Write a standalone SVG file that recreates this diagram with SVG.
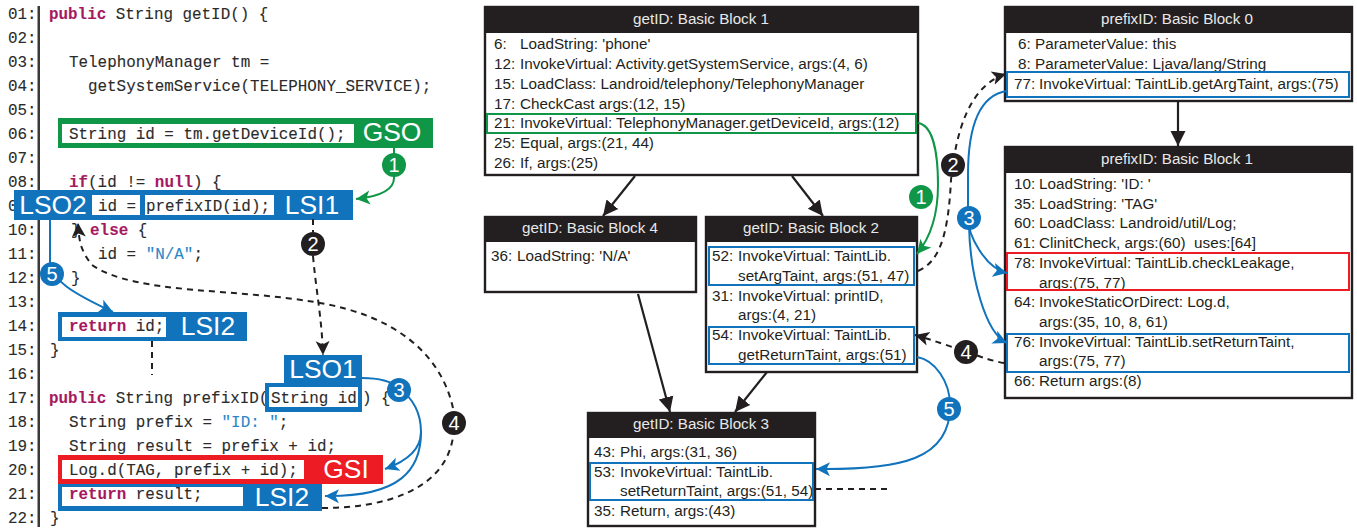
<svg xmlns="http://www.w3.org/2000/svg" width="1357" height="529" viewBox="0 0 1357 529">
<style>
text{font-family:"Liberation Sans",Arial,sans-serif;fill:#231f20}
.c text,text.c{font-family:"Liberation Mono","DejaVu Sans Mono",monospace;font-size:15.9px;fill:#2b2b2b;stroke:#2b2b2b;stroke-width:.1}
.k{fill:#a6195f;stroke:#a6195f;font-weight:bold}
.s{fill:#2a86c8;stroke:#2a86c8}
.tag{font-size:26.400px;fill:#fff;text-anchor:middle}
.t{font-size:15.25px}
.h{font-size:15.2px;fill:#e8e8e8;text-anchor:middle}
.box{fill:#fff;stroke:#231f20;stroke-width:2.4}
.hd{fill:#231f20}
.hl{fill:none;stroke-width:2}
.g{stroke:#0f9647}.b{stroke:#1173bb}.r{stroke:#ed1c24}
.fg{fill:#0f9647}.fb{fill:#1173bb}.fr{fill:#ed1c24}
.w{fill:#fff}
.e{fill:none;stroke-width:2}
.d{fill:none;stroke:#231f20;stroke-width:2;stroke-dasharray:6 5}
.a{fill:none;stroke:#231f20;stroke-width:2.2}
.n{fill:#fff;text-anchor:middle;font-size:20px}
</style>
<defs>
<marker id="mk" markerUnits="userSpaceOnUse" markerWidth="18" markerHeight="18" refX="15" refY="9" orient="auto"><path d="M0 1.500L15 9L0 16.500Z" fill="#231f20"/></marker>
<marker id="md" markerUnits="userSpaceOnUse" markerWidth="16" markerHeight="16" refX="14" refY="8" orient="auto"><path d="M0 1L14 8L0 15L3.500 8Z" fill="#231f20"/></marker>
<marker id="mb" markerUnits="userSpaceOnUse" markerWidth="16" markerHeight="16" refX="14" refY="8" orient="auto"><path d="M0 1L14 8L0 15L3.500 8Z" fill="#1173bb"/></marker>
<marker id="mg" markerUnits="userSpaceOnUse" markerWidth="16" markerHeight="16" refX="14" refY="8" orient="auto"><path d="M0 1L14 8L0 15L3.500 8Z" fill="#0f9647"/></marker>
</defs>
<g id="line-numbers" class="c">
<rect x="37.500" y="6" width="2.500" height="521" fill="#3a3a3a"/>
<text x="8" y="19">01:</text><text x="8" y="43">02:</text><text x="8" y="67">03:</text><text x="8" y="91">04:</text><text x="8" y="115">05:</text><text x="8" y="139">06:</text><text x="8" y="163">07:</text><text x="8" y="187">08:</text><text x="8" y="211">0</text><text x="8" y="235">10:</text><text x="8" y="259">11:</text><text x="8" y="283">12:</text><text x="8" y="307">13:</text><text x="8" y="331">14:</text><text x="8" y="355">15:</text><text x="8" y="379">16:</text><text x="8" y="403">17:</text><text x="8" y="427">18:</text><text x="8" y="451">19:</text><text x="8" y="475">20:</text><text x="8" y="499">21:</text><text x="8" y="523">22:</text>
</g>
<g id="code" class="c">
<text x="49" y="19"><tspan class="k">public</tspan> String getID() {</text>
<text x="69" y="67">TelephonyManager tm =</text>
<text x="88" y="91">getSystemService(TELEPHONY_SERVICE);</text>
<text x="69" y="187"><tspan class="k">if</tspan>(id != <tspan class="k">null</tspan>) {</text>
<text x="71" y="235">} <tspan class="k">else</tspan> {</text>
<text x="98" y="259">id = <tspan class="s">"N/A"</tspan>;</text>
<text x="71" y="283">}</text>
<text x="50" y="355">}</text>
<text x="49" y="403"><tspan class="k">public</tspan> String prefixID(</text>
<text x="362" y="403">) {</text>
<text x="69" y="427">String prefix = <tspan class="s">"ID: "</tspan>;</text>
<text x="69" y="451">String result = prefix + id;</text>
<text x="50" y="523">}</text>
</g>
<g id="code-gso">
<rect x="58" y="118" width="375" height="30" class="fg"/><rect x="62" y="124" width="292" height="19" class="w"/>
<text class="c" x="69" y="139">String id = tm.getDeviceId();</text>
<text class="tag" x="392" y="141">GSO</text>
</g>
<g id="code-lsi1">
<rect x="14" y="190" width="339" height="30" class="fb"/>
<rect x="92" y="195" width="48" height="20" class="w"/><rect x="145" y="195" width="129" height="20" class="w"/>
<text class="c" x="98" y="211">id =</text><text class="c" x="146" y="211">prefixID(id);</text>
<text class="tag" x="53" y="214">LSO2</text><text class="tag" x="312" y="214">LSI1</text>
</g>
<g id="code-lsi2-a">
<rect x="58" y="312" width="189" height="29" class="fb"/><rect x="62" y="317" width="104" height="20" class="w"/>
<text class="c" x="69" y="331"><tspan class="k">return</tspan> id;</text>
<text class="tag" x="208" y="335">LSI2</text>
</g>
<g id="code-lso1">
<rect x="284" y="355" width="78" height="28" class="fb"/><rect x="265" y="383" width="97" height="29" class="fb"/>
<rect x="269" y="387" width="89" height="20" class="w"/>
<text class="c" x="271" y="403">String id</text>
<text class="tag" x="323" y="378">LSO1</text>
</g>
<g id="code-gsi">
<rect x="58" y="455" width="325" height="29" class="fr"/><rect x="62" y="460" width="242" height="19" class="w"/>
<text class="c" x="69" y="475">Log.d(TAG, prefix + id);</text>
<text class="tag" x="346" y="478">GSI</text>
</g>
<g id="code-lsi2-b">
<rect x="58" y="484" width="264" height="27" class="fb"/><rect x="62" y="487" width="181" height="19" class="w"/>
<text class="c" x="69" y="499"><tspan class="k">return</tspan> result;</text>
<text class="tag" x="282" y="506">LSI2</text>
</g>

<g id="bb1">
<rect x="485" y="7" width="433" height="168" class="box"/><rect x="484" y="6" width="435" height="27" class="hd"/>
<text class="h" x="701" y="24">getID: Basic Block 1</text>
<text class="t" x="494" y="49">6:<tspan x="520">LoadString: 'phone'</tspan></text>
<text class="t" x="494" y="69">12:<tspan x="520">InvokeVirtual: Activity.getSystemService, args:(4, 6)</tspan></text>
<text class="t" x="494" y="89">15:<tspan x="520">LoadClass: Landroid/telephony/TelephonyManager</tspan></text>
<text class="t" x="494" y="109">17:<tspan x="520">CheckCast args:(12, 15)</tspan></text>
<text class="t" x="494" y="128">21:<tspan x="520">InvokeVirtual: TelephonyManager.getDeviceId, args:(12)</tspan></text>
<text class="t" x="494" y="148">25:<tspan x="520">Equal, args:(21, 44)</tspan></text>
<text class="t" x="494" y="168">26:<tspan x="520">If, args:(25)</tspan></text>
<rect x="487" y="114" width="429" height="19" class="hl g"/>
</g>
<g id="bb4">
<rect x="485" y="217" width="211" height="75" class="box"/><rect x="484" y="216" width="213" height="26" class="hd"/>
<text class="h" x="590" y="233">getID: Basic Block 4</text>
<text class="t" x="491" y="261">36:<tspan x="517">LoadString: 'N/A'</tspan></text>
</g>
<g id="bb2">
<rect x="706" y="217" width="211" height="155" class="box"/><rect x="705" y="216" width="213" height="26" class="hd"/>
<text class="h" x="811" y="233">getID: Basic Block 2</text>
<text class="t" x="712" y="261">52:<tspan x="738">InvokeVirtual: TaintLib.</tspan></text>
<text class="t" x="738" y="281">setArgTaint, args:(51, 47)</text>
<text class="t" x="712" y="301">31:<tspan x="738">InvokeVirtual: printID,</tspan></text>
<text class="t" x="738" y="320">args:(4, 21)</text>
<text class="t" x="712" y="340">54:<tspan x="738">InvokeVirtual: TaintLib.</tspan></text>
<text class="t" x="738" y="360">getReturnTaint, args:(51)</text>
<rect x="709" y="247" width="205" height="38" class="hl b"/>
<rect x="709" y="327" width="205" height="37" class="hl b"/>
</g>
<g id="bb3">
<rect x="588" y="413" width="227" height="113" class="box"/><rect x="587" y="412" width="229" height="26" class="hd"/>
<text class="h" x="701" y="429">getID: Basic Block 3</text>
<text class="t" x="594" y="457">43:<tspan x="620">Phi, args:(31, 36)</tspan></text>
<text class="t" x="594" y="477">53:<tspan x="620">InvokeVirtual: TaintLib.</tspan></text>
<text class="t" x="620" y="496">setReturnTaint, args:(51, 54)</text>
<text class="t" x="594" y="516">35:<tspan x="620">Return, args:(43)</tspan></text>
<rect x="590" y="463" width="223" height="37" class="hl b"/>
</g>
<g id="prefix-bb0">
<rect x="1005" y="7" width="347" height="94" class="box"/><rect x="1004" y="6" width="349" height="27" class="hd"/>
<text class="h" x="1177" y="24">prefixID: Basic Block 0</text>
<text class="t" x="1018" y="49">6:<tspan x="1035">ParameterValue: this</tspan></text>
<text class="t" x="1018" y="69">8:<tspan x="1035">ParameterValue: Ljava/lang/String</tspan></text>
<text class="t" x="1014" y="89">77:<tspan x="1039">InvokeVirtual: TaintLib.getArgTaint, args:(75)</tspan></text>
<rect x="1007" y="72" width="342" height="25" class="hl b"/>
</g>
<g id="prefix-bb1">
<rect x="1005" y="147" width="347" height="251" class="box"/><rect x="1004" y="146" width="349" height="27" class="hd"/>
<text class="h" x="1177" y="164">prefixID: Basic Block 1</text>
<text class="t" x="1014" y="189">10:<tspan x="1039">LoadString: 'ID: '</tspan></text>
<text class="t" x="1014" y="209">35:<tspan x="1039">LoadString: 'TAG'</tspan></text>
<text class="t" x="1014" y="228">60:<tspan x="1039">LoadClass: Landroid/util/Log;</tspan></text>
<text class="t" x="1014" y="248" xml:space="preserve">61:<tspan x="1039">ClinitCheck, args:(60)  uses:[64]</tspan></text>
<text class="t" x="1014" y="268">78:<tspan x="1039">InvokeVirtual: TaintLib.checkLeakage,</tspan></text>
<text class="t" x="1039" y="288">args:(75, 77)</text>
<text class="t" x="1014" y="307">64:<tspan x="1039">InvokeStaticOrDirect: Log.d,</tspan></text>
<text class="t" x="1039" y="327">args:(35, 10, 8, 61)</text>
<text class="t" x="1014" y="347">76:<tspan x="1039">InvokeVirtual: TaintLib.setReturnTaint,</tspan></text>
<text class="t" x="1039" y="366">args:(75, 77)</text>
<text class="t" x="1014" y="386">66:<tspan x="1039">Return args:(8)</tspan></text>
<rect x="1007" y="253" width="342" height="37" class="hl r"/>
<rect x="1007" y="334" width="342" height="38" class="hl b"/>
</g>

<g id="connectors">
<path class="a" d="M635 176L603 216" marker-end="url(#mk)"/>
<path class="a" d="M792 176L823 216" marker-end="url(#mk)"/>
<path class="a" d="M638 294L670 412" marker-end="url(#mk)"/>
<path class="a" d="M767 372L735 412" marker-end="url(#mk)"/>
<path class="a" d="M1178 101V146" marker-end="url(#mk)"/>
<path class="e g" d="M394 148V178C394 192 375 197 356 199" marker-end="url(#mg)"/>
<path class="d" d="M313 219V232M313 256C316 290 322 320 323 355" marker-end="url(#md)"/>
<path class="d" d="M152 341V375"/>
<path class="e b" d="M50 220V262C52 280 70 292 113 312" marker-end="url(#mb)"/>
<path class="e b" d="M362 378C375 378 390 380 399 388C415 400 421 415 421 432C421 448 410 460 385 469" marker-end="url(#mb)"/>
<path class="e b" d="M421 432C421 470 400 497 325 496" marker-end="url(#mb)"/>
<path class="d" d="M322 508C385 508 445 490 453 437M453 408C440 350 390 315 320 303C240 288 135 295 92 265C80 250 79 240 78 223" marker-end="url(#md)"/>
<path class="e g" d="M918 123C932 125 938 150 938 185C938 215 930 238 917 254" marker-end="url(#mg)"/>
<path class="d" d="M918 271C938 262 948 240 951 180C956 130 970 85 1006 74" marker-end="url(#md)"/>
<path class="e b" d="M1007 91C980 95 968 125 968 175V218C968 235 985 268 1007 273" marker-end="url(#mb)"/>
<path class="e b" d="M969 225C970 275 985 333 1007 343" marker-end="url(#mb)"/>
<path class="d" d="M1004 363C985 360 950 345 915 335" marker-end="url(#md)"/>
<path class="e b" d="M917 357C935 360 950 382 950 405C951 460 900 470 816 469" marker-end="url(#mb)"/>
<path class="d" d="M815 489H887"/>
</g>
<g id="badges">
<g id="badge-1a"><circle cx="394" cy="165" r="12" class="fg"/><text class="n" x="394" y="172">1</text></g>
<g id="badge-2a"><circle cx="313" cy="244" r="12" fill="#231f20"/><text class="n" x="313" y="251">2</text></g>
<g id="badge-5a"><circle cx="52" cy="274" r="12" class="fb"/><text class="n" x="52" y="281">5</text></g>
<g id="badge-3a"><circle cx="399" cy="390" r="12" class="fb"/><text class="n" x="399" y="397">3</text></g>
<g id="badge-4a"><circle cx="454" cy="423" r="12" fill="#231f20"/><text class="n" x="454" y="430">4</text></g>
<g id="badge-1b"><circle cx="921" cy="197" r="12" class="fg"/><text class="n" x="921" y="204">1</text></g>
<g id="badge-2b"><circle cx="953" cy="165" r="12" fill="#231f20"/><text class="n" x="953" y="172">2</text></g>
<g id="badge-3b"><circle cx="969" cy="218" r="12" class="fb"/><text class="n" x="969" y="225">3</text></g>
<g id="badge-4b"><circle cx="966" cy="352" r="12" fill="#231f20"/><text class="n" x="966" y="359">4</text></g>
<g id="badge-5b"><circle cx="949" cy="409" r="12" class="fb"/><text class="n" x="949" y="416">5</text></g>
</g>
</svg>
